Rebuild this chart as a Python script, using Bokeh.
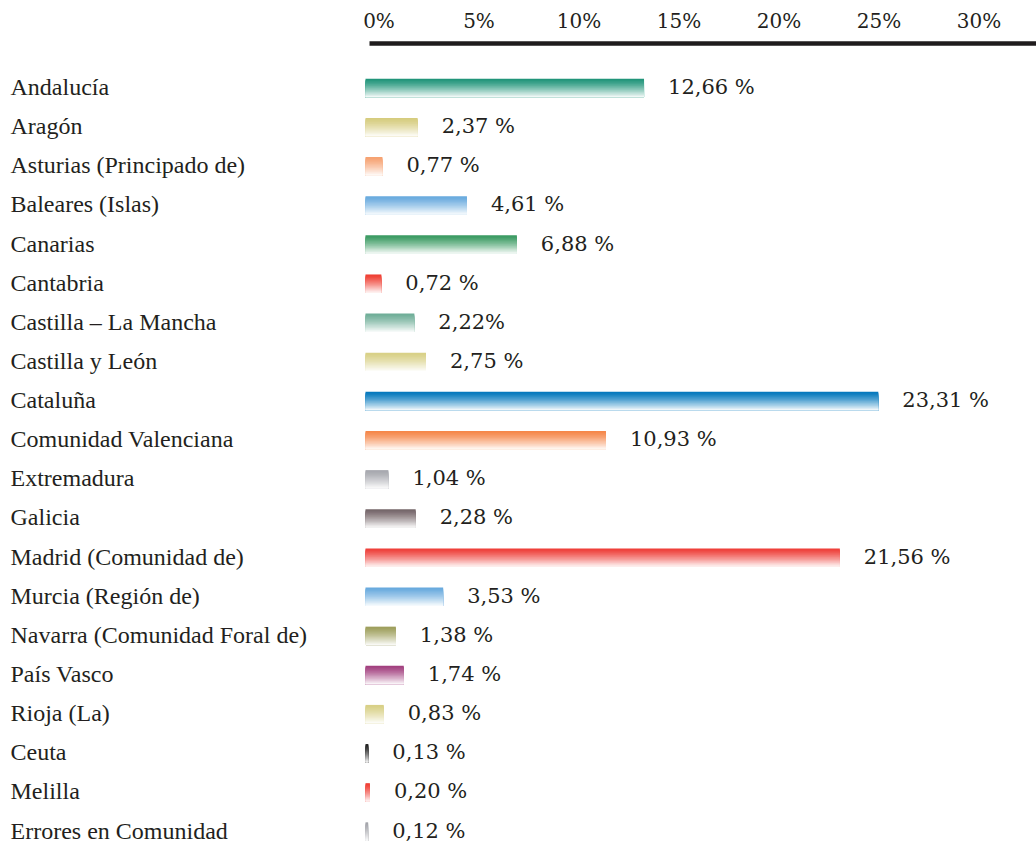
from bokeh.plotting import figure
from bokeh.models import ColumnDataSource, Range1d, LinearAxis, FixedTicker
from bokeh.core.properties import value
from bokeh.embed import file_html
from bokeh.resources import INLINE

# ---------------- data ----------------
regions = [
    "Andalucía", "Aragón", "Asturias (Principado de)", "Baleares (Islas)",
    "Canarias", "Cantabria", "Castilla – La Mancha", "Castilla y León",
    "Cataluña", "Comunidad Valenciana", "Extremadura", "Galicia",
    "Madrid (Comunidad de)", "Murcia (Región de)", "Navarra (Comunidad Foral de)",
    "País Vasco", "Rioja (La)", "Ceuta", "Melilla", "Errores en Comunidad",
]
shares = [12.66, 2.37, 0.77, 4.61, 6.88, 0.72, 2.22, 2.75, 23.31, 10.93,
          1.04, 2.28, 21.56, 3.53, 1.38, 1.74, 0.83, 0.13, 0.20, 0.12]
share_labels = ["12,66 %", "2,37 %", "0,77 %", "4,61 %", "6,88 %", "0,72 %",
                "2,22%", "2,75 %", "23,31 %", "10,93 %", "1,04 %", "2,28 %",
                "21,56 %", "3,53 %", "1,38 %", "1,74 %", "0,83 %", "0,13 %",
                "0,20 %", "0,12 %"]
bar_colors = ["#21957a", "#d6cc7e", "#f6a272", "#68aade", "#3b9a62", "#ef3f33",
              "#6fae98", "#d8d086", "#0679bd", "#f5874a", "#a6a7ae", "#756669",
              "#ee3f39", "#68aade", "#9e9f5c", "#a2407f", "#d8d086", "#1e1e1e",
              "#f03d33", "#a3a4aa"]
tick_values = [0, 5, 10, 15, 20, 25, 30]
tick_labels = ["0%", "5%", "10%", "15%", "20%", "25%", "30%"]

# ---------------- geometry ----------------
W, H = 1036, 842
TOP = 43
PX_PER_PCT = 22.0
ZERO_PX = 365.0
x_start = -ZERO_PX / PX_PER_PCT
x_end = (W - ZERO_PX) / PX_PER_PCT

frame_h = H - TOP
row_px = (788.0 - 44.5) / 19
y_top = -44.5 / row_px
y_bottom = (len(regions) - 1) + (frame_h - 788.0) / row_px

AX_PX = 20.0
AX_ZERO = 378.5
ax_start = -AX_ZERO / AX_PX
ax_end = (W - AX_ZERO) / AX_PX

p = figure(width=W, height=H, output_backend="svg", toolbar_location=None,
           x_range=Range1d(x_start, x_end), y_range=Range1d(y_bottom, y_top),
           x_axis_location=None, y_axis_location=None,
           min_border_left=0, min_border_right=0, min_border_bottom=0,
           min_border_top=TOP)
p.outline_line_color = None
p.xgrid.visible = False
p.ygrid.visible = False
p.background_fill_color = "white"
p.border_fill_color = "white"

p.extra_x_ranges = {"axis": Range1d(ax_start, ax_end)}
ax = LinearAxis(x_range_name="axis")
ax.ticker = FixedTicker(ticks=tick_values)
ax.major_label_overrides = {v: l for v, l in zip(tick_values, tick_labels)}
ax.bounds = (-0.475, ax_end)
ax.axis_line_color = "#1f1c1d"
ax.axis_line_width = 4.5
ax.major_tick_line_color = None
ax.minor_tick_line_color = None
ax.major_tick_out = 0
ax.major_tick_in = 0
ax.major_label_standoff = 11
ax.major_label_text_font = "DejaVu Serif"
ax.major_label_text_font_size = "20px"
ax.major_label_text_color = "#231f20"
p.add_layout(ax, "above")

# ---------------- gradient bars (nested slices, top colour fading to white) ----------------
def hex_to_rgb(h):
    h = h.lstrip("#")
    return tuple(int(h[i:i + 2], 16) for i in (0, 2, 4))

N = 16
BAR_H = 0.47
slice_h = BAR_H / N
tops, bottoms, rights, cols = [], [], [], []
for i, (v, c) in enumerate(zip(shares, bar_colors)):
    r, g, b = hex_to_rgb(c)
    bar_top = i - BAR_H / 2
    bar_bottom = i + BAR_H / 2
    for k in range(N):
        t = k / (N - 1)
        f = 0.93 * (t ** 1.25)
        rr = round(r + (255 - r) * f)
        gg = round(g + (255 - g) * f)
        bb = round(b + (255 - b) * f)
        tops.append(bar_top + k * slice_h)
        bottoms.append(bar_bottom)
        rights.append(v)
        cols.append("#%02x%02x%02x" % (rr, gg, bb))

bars = ColumnDataSource(dict(top=tops, bottom=bottoms, right=rights, color=cols))
p.quad(left=0, right="right", top="top", bottom="bottom", fill_color="color",
       line_color=None, source=bars)

# ---------------- texts ----------------
rows = list(range(len(regions)))
src = ColumnDataSource(dict(y=rows, v=shares, lab=share_labels, reg=regions,
                            lx=[x_start + 10.0 / PX_PER_PCT] * len(regions)))
p.text(x="lx", y="y", text="reg", source=src, text_font=value("Liberation Serif"),
       text_font_size="24px", text_color="#231f20", text_baseline="middle",
       text_align="left", y_offset=-1)
p.text(x="v", y="y", text="lab", source=src, text_font=value("DejaVu Serif"),
       text_font_size="21px", text_color="#231f20", text_baseline="middle",
       text_align="left", x_offset=24, y_offset=-1)

open("out.html", "w").write(file_html(p, INLINE))
